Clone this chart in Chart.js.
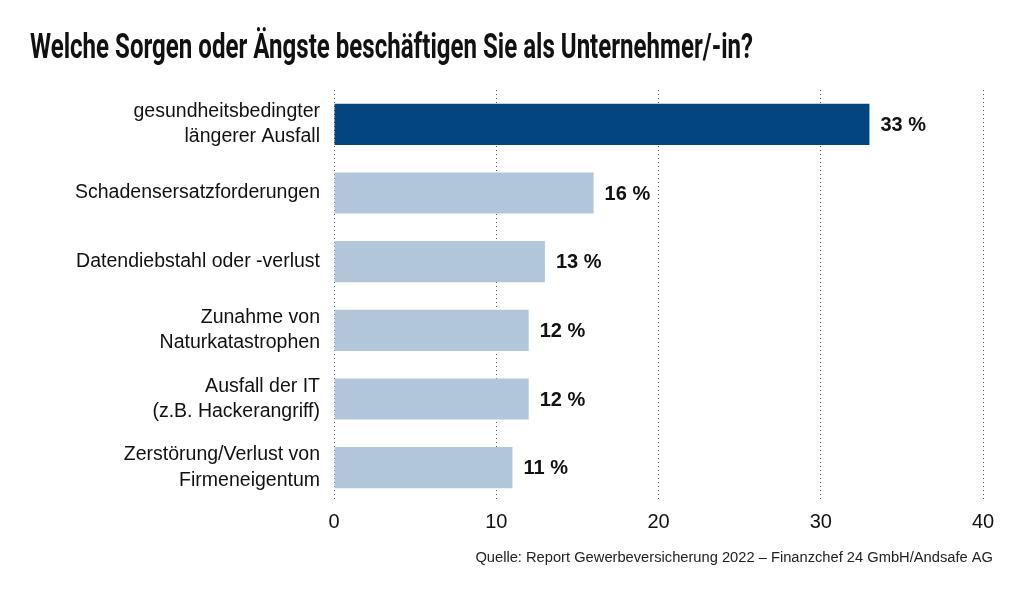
<!DOCTYPE html>
<html><head><meta charset="utf-8">
<script src="https://cdn.jsdelivr.net/npm/chart.js@4"></script>
<style>html,body{margin:0;padding:0;background:#fff}canvas{display:block}</style>
</head><body>
<div style="width:1024px;height:600px"><canvas id="c" width="1024" height="600"></canvas></div>
<script>
const categories = [
  ["gesundheitsbedingter","längerer Ausfall"],
  "Schadensersatzforderungen",
  "Datendiebstahl oder -verlust",
  ["Zunahme von","Naturkatastrophen"],
  ["Ausfall der IT","(z.B. Hackerangriff)"],
  ["Zerstörung/Verlust von","Firmeneigentum"]
];
const values = [33, 16, 13, 12, 12, 11];
const barColors = ["#03457f","#b1c7d9","#b1c7d9","#b1c7d9","#b1c7d9","#b1c7d9"];
const titleText = "Welche Sorgen oder Ängste beschäftigen Sie als Unternehmer/-in?";
const sourceText = "Quelle: Report Gewerbeversicherung 2022 – Finanzchef 24 GmbH/Andsafe AG";
const xTicks = [0,10,20,30,40];

const extras = {
  id:'extras',
  afterDatasetsDraw(chart){
    const ctx = chart.ctx;
    const meta = chart.getDatasetMeta(0);
    ctx.save();
    ctx.fillStyle = '#111';
    ctx.font = 'bold 20px "Liberation Sans", Arial, sans-serif';
    ctx.textBaseline = 'middle';
    ctx.textAlign = 'left';
    meta.data.forEach((bar,i)=>{
      ctx.fillText(values[i] + ' %', bar.x + 11, bar.y + 1);
    });
    ctx.restore();
  },
  afterDraw(chart){
    const ctx = chart.ctx;
    ctx.save();
    ctx.fillStyle = '#111';
    ctx.font = 'bold 35px Roboto, "DejaVu Sans Condensed", sans-serif';
    ctx.textBaseline = 'alphabetic';
    ctx.textAlign = 'left';
    const w = ctx.measureText(titleText).width;
    const sx = 723 / w;
    ctx.translate(30, 58);
    ctx.scale(sx, 1);
    ctx.fillText(titleText, 0, 0);
    ctx.restore();
    ctx.save();
    ctx.fillStyle = '#222';
    ctx.font = '14.7px "Liberation Sans", Arial, sans-serif';
    ctx.textAlign = 'right';
    ctx.textBaseline = 'middle';
    ctx.fillText(sourceText, 993, 558);
    ctx.restore();
  }
};

new Chart(document.getElementById('c'), {
  type:'bar',
  data:{ labels: categories, datasets:[{ data: values, backgroundColor: barColors, barPercentage:0.6, categoryPercentage:1.0 }]},
  options:{
    indexAxis:'y',
    responsive:false,
    animation:false,
    layout:{ padding:{ top:90, right:41, bottom:68, left:0 } },
    plugins:{ legend:{display:false}, tooltip:{enabled:false}, title:{display:false} },
    scales:{
      x:{
        min:0, max:40,
        afterBuildTicks(s){ s.ticks = xTicks.map(v=>({value:v})); },
        afterFit(s){ s.height = 30; },
        grid:{ color:'#555', lineWidth:1, drawTicks:false },
        border:{ display:false, dash:[1,3] },
        ticks:{ color:'#111', font:{ family:'"Liberation Sans", Arial, sans-serif', size:20 }, padding:8 }
      },
      y:{
        afterFit(s){ s.width = 334; },
        grid:{ display:false },
        border:{ display:false },
        ticks:{ color:'#111', font:{ family:'"Liberation Sans", Arial, sans-serif', size:19.5, lineHeight:1.3 }, padding:6 }
      }
    }
  },
  plugins:[extras]
});
</script>
</body></html>
